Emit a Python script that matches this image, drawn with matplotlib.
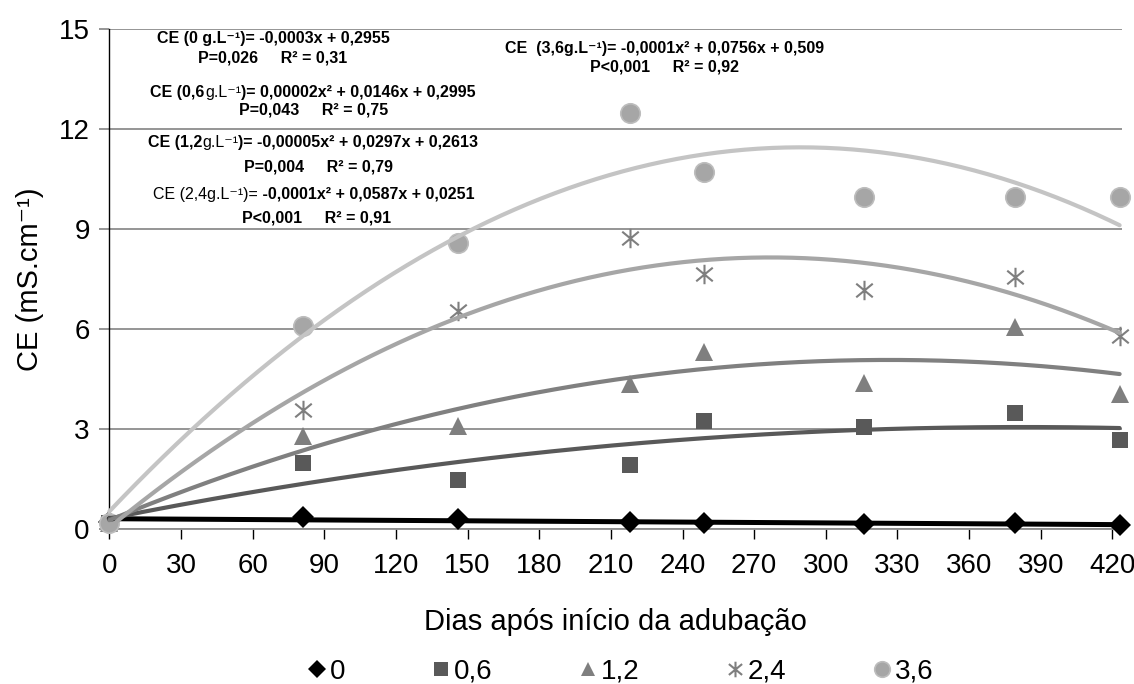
import numpy as np
import matplotlib
matplotlib.use("Agg")
import matplotlib.pyplot as plt
from matplotlib.lines import Line2D
from matplotlib.path import Path

plt.rcParams['font.family'] = ['Liberation Sans', 'DejaVu Sans']

# dias de coleta e CE medida para cada dose de NaCl (g/L)
days = [0, 81, 146, 218, 249, 316, 379, 423]
ce_0 = [0.22, 0.38, 0.31, 0.23, 0.18, 0.16, 0.18, 0.12]
ce_06 = [0.20, 1.98, 1.48, 1.93, 3.26, 3.08, 3.48, 2.68]
ce_12 = [0.20, 2.80, 3.10, 4.35, 5.32, 4.40, 6.06, 4.07]
ce_24 = [0.20, 3.58, 6.55, 8.75, 7.66, 7.18, 7.58, 5.80]
ce_36 = [0.20, 6.10, 8.60, 12.48, 10.73, 9.98, 9.98, 9.98]

doses = ["0", "0,6", "1,2", "2,4", "3,6"]
series = [ce_0, ce_06, ce_12, ce_24, ce_36]
fit_degree = [1, 2, 2, 2, 2]

x_ticks = list(range(0, 421, 30))
y_ticks = [0, 3, 6, 9, 12, 15]

# asterisco estilo excel: vertical + X
star = Path([(0, -1), (0, 1), (-0.85, -0.7), (0.85, 0.7), (-0.85, 0.7), (0.85, -0.7)],
            [Path.MOVETO, Path.LINETO] * 3)

marker_style = [
    dict(marker='D', ms=11, mfc='black', mec='black', mew=0),
    dict(marker='s', ms=12, mfc='#595959', mec='#595959', mew=0),
    dict(marker='^', ms=13, mfc='#7f7f7f', mec='#7f7f7f', mew=0),
    dict(marker=star, ms=14, mfc='none', mec='#7f7f7f', mew=1.5),
    dict(marker='o', ms=14, mfc='#a6a6a6', mec='#bdbdbd', mew=1.2),
]
line_color = ['black', '#595959', '#808080', '#a6a6a6', '#c4c4c4']
line_width = [3.6, 3.0, 3.0, 3.0, 3.0]

W, H = 1134, 684
fig = plt.figure(figsize=(W / 100, H / 100), dpi=100)
ax = fig.add_axes([109.3 / W, 1 - 529.3 / H, (1122 - 109.3) / W, 500 / H])

xx = np.linspace(days[0], days[-1], 300)
for i, ys in enumerate(series):
    ax.plot(days, ys, ls='none', zorder=3, clip_on=False, **marker_style[i])
    coef = np.polyfit(days, ys, fit_degree[i])
    ax.plot(xx, np.polyval(coef, xx), color=line_color[i], lw=line_width[i],
            solid_capstyle='round', zorder=4, clip_on=False)

ax.set_xlim(0, 424)
ax.set_ylim(0, 15)
ax.set_xticks(x_ticks)
ax.set_yticks(y_ticks)
ax.yaxis.grid(True, color='#8c8c8c', lw=1.3)
ax.set_axisbelow(True)
for s in ['top', 'right']:
    ax.spines[s].set_visible(False)
ax.spines['left'].set_color('black')
ax.spines['left'].set_linewidth(1.0)
ax.spines['bottom'].set_color('#8c8c8c')
ax.spines['bottom'].set_linewidth(1.3)
ax.tick_params(axis='y', length=7, color='#8c8c8c', width=1.3, labelsize=20, pad=7)
ax.tick_params(axis='x', length=7, color='black', width=1.0, labelsize=20, pad=10)

ax.set_xlabel("Dias após início da adubação", fontsize=21, labelpad=21)
ax.set_ylabel("CE (mS.cm⁻¹)", fontsize=21, labelpad=11)

# legenda com marcadores um pouco menores
handles = []
for st in marker_style:
    st = dict(st)
    st['ms'] = st['ms'] * 0.8
    handles.append(Line2D([], [], ls='none', **st))
fig.legend(handles, doses, loc='center', bbox_to_anchor=(621 / W, 1 - 672 / H),
           ncol=5, frameon=False, fontsize=20, handlelength=0.6, handletextpad=0.15,
           columnspacing=3.15)

# equações das curvas, com trechos em negrito e normal
renderer = fig.canvas.get_renderer()


def eq_line(cx, cy, parts, size=11.5):
    texts = [fig.text(0, 1 - (cy + 5.5) / H, s, fontsize=size, fontweight=w,
                      ha='left', va='baseline') for s, w in parts]
    widths = [t.get_window_extent(renderer).width for t in texts]
    x = cx - sum(widths) / 2
    for t, wd in zip(texts, widths):
        t.set_x(x / W)
        x += wd


B, N = 'bold', 'normal'
eq_line(273, 38, [("CE (0 g.L⁻¹)= -0,0003x + 0,2955", B)])
eq_line(273, 57, [("P=0,026     R² = 0,31", B)])
eq_line(313, 92, [("CE (0,6", B), ("g.L⁻¹", N), (")= 0,00002x² + 0,0146x + 0,2995", B)])
eq_line(314, 109, [("P=0,043     R² = 0,75", B)])
eq_line(313, 142, [("CE (1,2", B), ("g.L⁻¹", N), (")= -0,00005x² + 0,0297x + 0,2613", B)])
eq_line(319, 166, [("P=0,004     R² = 0,79", B)])
eq_line(314, 193, [("CE (2,4g.L⁻¹)=", N), (" -0,0001x² + 0,0587x + 0,0251", B)])
eq_line(317, 217, [("P<0,001     R² = 0,91", B)])
eq_line(665, 48, [("CE  (3,6g.L⁻¹)= -0,0001x² + 0,0756x + 0,509", B)])
eq_line(664, 66, [("P<0,001     R² = 0,92", B)])

fig.savefig("out.png", dpi=100)
